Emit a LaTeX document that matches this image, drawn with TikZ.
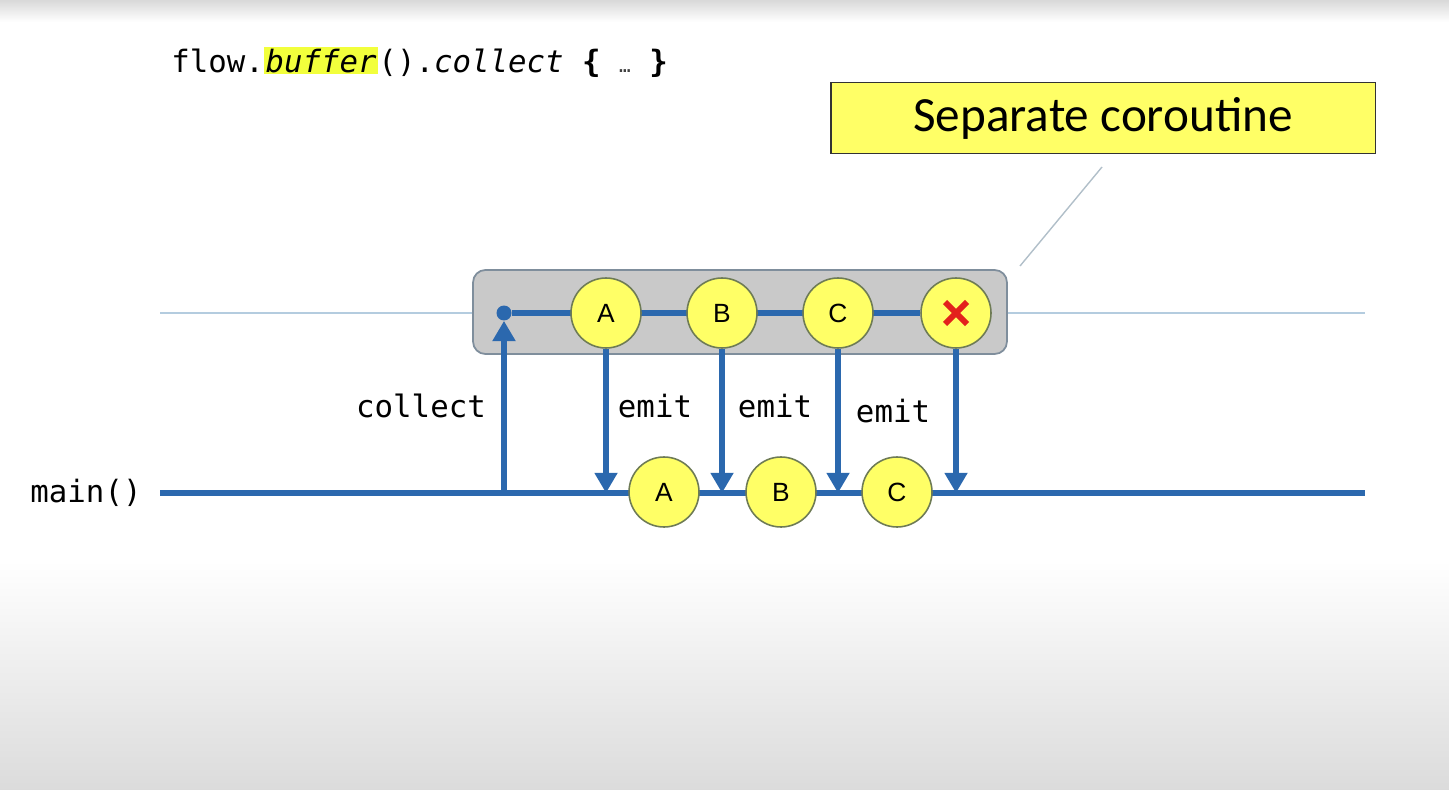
\documentclass[tikz,border=0pt]{standalone}
\usepackage{fontspec}
\setmainfont{Liberation Sans}
\setmonofont{DejaVu Sans Mono}
\newfontfamily\notefont{Carlito}
\usetikzlibrary{arrows.meta, positioning, backgrounds}
\definecolor{flowblue}{HTML}{2B68AE}
\definecolor{ballyellow}{HTML}{FFFF66}
\definecolor{ballrim}{HTML}{6E7B55}
\definecolor{boxgray}{HTML}{C9C9C9}
\definecolor{boxrim}{HTML}{7F8E9C}
\definecolor{guideblue}{HTML}{B4CCDF}
\definecolor{crossred}{HTML}{E3211C}
\definecolor{hlyellow}{HTML}{F2FF3C}

\begin{document}
\begin{tikzpicture}[x=0.02cm, y=-0.02cm, >={Triangle[width=12.5pt,length=11.5pt]},
  ball/.style={circle, draw=ballrim, line width=0.9pt, fill=ballyellow, minimum size=1.4cm, inner sep=0pt, font=\fontsize{15}{17}\selectfont},
  wire/.style={draw=flowblue, line width=3.4pt},
  code/.style={font=\ttfamily\fontsize{17.5}{20}\selectfont, inner sep=0pt},
  xmark/.style={path picture={\draw[crossred, line width=3.3pt]
      ([shift={(-11,-11)}]path picture bounding box.center) -- ([shift={(11,11)}]path picture bounding box.center)
      ([shift={(-11,11)}]path picture bounding box.center) -- ([shift={(11,-11)}]path picture bounding box.center);}}]
  \useasboundingbox (0,0) rectangle (1449,790);
  % background
  \shade[top color=black!15, bottom color=white] (0,0) rectangle (1449,22);
  \shade[top color=white, bottom color=black!14] (0,560) rectangle (1449,790);

  % Define nodes
  \node[code, anchor=west] (codeline) at (171,62)
    {flow.{\setlength\fboxsep{1pt}\colorbox{hlyellow}{\itshape buffer}}().{\itshape collect} {\bfseries\{} {\color{darkgray}\fontsize{11}{12}\selectfont …} {\bfseries\}}};
  \node[draw=black!80, line width=1.1pt, fill=ballyellow, minimum width=10.9cm, minimum height=1.42cm,
    font=\notefont\fontsize{28}{30}\selectfont] (sepnote) at (1103,118) {Separate coroutine};
  \begin{scope}[on background layer]
    \coordinate (gleft) at (160,313);
    \coordinate (gright) at (1365,313);
    \draw[guideblue, line width=0.8pt] (gleft) -- (gright);
    \node[draw=boxrim, line width=1pt, fill=boxgray, rounded corners=7pt, minimum width=10.68cm, minimum height=1.68cm] (cobox) at (740,312) {};
  \end{scope}

  \node[circle, fill=flowblue, inner sep=0pt, minimum size=0.3cm] (dot) at (504,313) {};
  \node[ball] (ta) at (606,313) {A};
  \node[ball] (tb) at (722,313) {B};
  \node[ball] (tc) at (838,313) {C};
  \node[ball, xmark] (tx) at (956,313) {};

  \coordinate (mleft) at (160,493);
  \coordinate (mright) at (1365,493);
  \node[ball] (ma) at (664,492) {A};
  \node[ball] (mb) at (781,492) {B};
  \node[ball] (mc) at (897,492) {C};

  \node[code] (mainlbl) at (86,493) {main()};
  \node[code] (collectlbl) at (421,406) {collect};
  \node[code] (emita) at (655,406) {emit};
  \node[code] (emitb) at (775,406) {emit};
  \node[code] (emitc) at (893,411) {emit};

  \coordinate (calltop) at (1102,167);
  \coordinate (callend) at (1020,266);

  % Draw edges
  \draw[guideblue!80!black!70, line width=0.8pt] (calltop) -- (callend);
  \begin{scope}[on background layer]
    \draw[wire] (mleft) -- (mright);
    \draw[wire] (dot) -- (tx);
    \draw[wire, ->] (dot |- mleft) -- (dot.south);
    \draw[wire, ->] (ta.south) -- (ta.south |- mleft);
    \draw[wire, ->] (tb.south) -- (tb.south |- mleft);
    \draw[wire, ->] (tc.south) -- (tc.south |- mleft);
    \draw[wire, ->] (tx.south) -- (tx.south |- mleft);
  \end{scope}
\end{tikzpicture}
\end{document}
